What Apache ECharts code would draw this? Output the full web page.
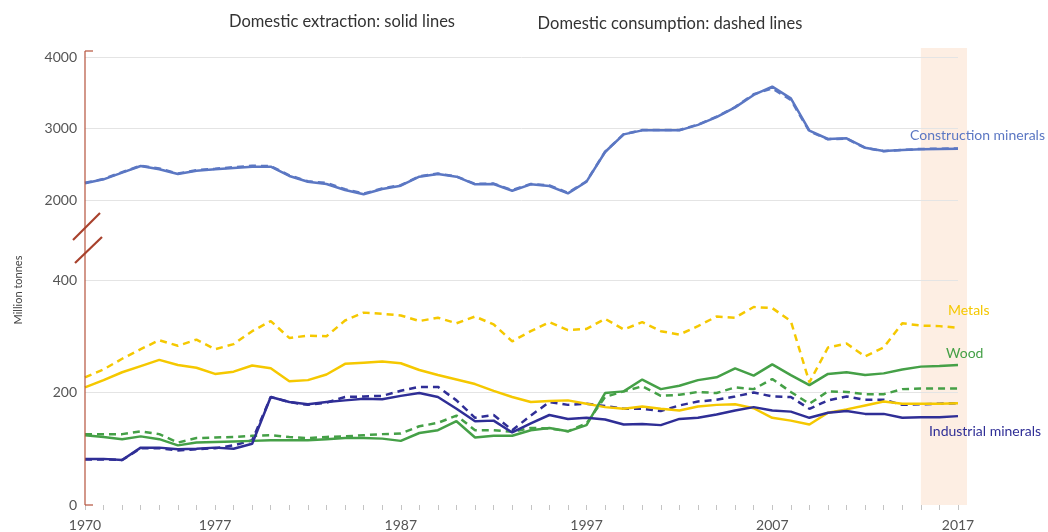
<!DOCTYPE html>
<html>
<head>
<meta charset="utf-8">
<script src="https://cdn.jsdelivr.net/npm/echarts@6/dist/echarts.min.js"></script>
<style>
html,body{margin:0;padding:0;background:#fff;}
#chart{width:1048px;height:532px;}
</style>
</head>
<body>
<div id="chart"></div>
<script>
const years = ['1970','1971','1972','1973','1974','1975','1976','1977','1978','1979',
  '1980','1981','1982','1983','1984','1985','1986','1987','1988','1989',
  '1990','1991','1992','1993','1994','1995','1996','1997','1998','1999',
  '2000','2001','2002','2003','2004','2005','2006','2007','2008','2009',
  '2010','2011','2012','2013','2014','2015','2016','2017'];
const labelledYears = ['1970','1977','1987','1997','2007','2017'];
const topTicks = [2000, 3000, 4000];
const bottomTicks = [0, 200, 400];

const constructionExtraction = [2233,2289,2382,2475,2429,2364,2410,2429,2448,2466,
  2466,2336,2256,2224,2140,2080,2154,2200,2326,2364,
  2326,2219,2224,2130,2219,2196,2093,2256,2671,2918,
  2974,2974,2974,3050,3159,3296,3469,3585,3422,2969,
  2853,2862,2731,2685,2699,2709,2713,2717];
const constructionConsumption = [2240,2295,2390,2480,2440,2370,2418,2436,2460,2478,
  2475,2345,2262,2238,2150,2090,2160,2208,2330,2370,
  2330,2225,2230,2138,2225,2205,2100,2262,2675,2920,
  2978,2978,2980,3055,3165,3300,3480,3560,3400,2960,
  2850,2858,2728,2683,2700,2714,2718,2722];
const metalsExtraction = [209,222,236,247,258,249,244,233,237,248,
  243,220,222,232,251,253,255,252,240,231,
  223,215,203,192,183,185,186,180,174,171,
  175,171,168,175,178,179,172,155,150,143,
  164,170,177,184,180,180,180,181];
const metalsConsumption = [227,241,260,277,293,283,294,277,286,309,
  327,297,301,300,328,342,340,337,327,333,
  323,335,321,291,309,325,311,313,331,312,
  325,309,303,318,335,333,352,350,327,218,
  280,287,264,280,323,319,318,315];
const woodExtraction = [124,121,117,122,117,106,111,112,113,114,
  115,115,115,117,119,119,118,114,128,133,
  149,120,123,123,133,137,131,142,199,202,
  223,206,212,222,227,243,230,250,231,213,
  233,236,231,234,241,246,247,249];
const woodConsumption = [126,126,126,131,126,111,119,120,121,123,
  124,121,119,121,122,124,126,127,140,146,
  159,133,133,130,137,136,131,145,192,202,
  211,194,196,201,199,209,206,224,201,180,
  202,201,197,197,206,207,207,207];
const industrialExtraction = [82,82,80,102,102,99,100,102,100,109,
  192,183,179,183,186,189,188,194,199,192,
  171,149,150,129,145,160,153,155,152,143,
  144,142,153,155,161,168,174,168,166,155,
  164,167,162,162,155,156,156,158];
const industrialConsumption = [81,81,80,101,101,97,99,101,106,115,
  192,183,178,182,192,193,194,203,210,210,
  186,155,160,133,159,183,178,180,176,171,
  171,167,177,184,187,193,200,193,192,171,
  186,193,187,187,178,179,180,181];

const C_CONS = '#5b77c3', C_MET = '#f5c800', C_WOOD = '#45a047', C_IND = '#2f2e96';
const AXIS_RED = '#b5533c';
const FONT = 'Lato';

const chart = echarts.init(document.getElementById('chart'), null, {renderer: 'canvas'});

const G_LEFT = 85, G_RIGHT = 90;
const gridTop = {left: G_LEFT, right: G_RIGHT, top: 57, height: 143};
const gridBot = {left: G_LEFT, right: G_RIGHT, top: 280, height: 227};

function line(name, data, color, dashed, gi, endLabel) {
  const s = {
    name: name, type: 'line', data: data,
    xAxisIndex: gi, yAxisIndex: gi,
    symbol: 'none', smooth: false,
    lineStyle: {color: color, width: 2.5, type: dashed ? [7, 5] : 'solid'},
    itemStyle: {color: color},
    z: dashed ? 3 : 4,
    animation: false
  };
  if (endLabel) {
    s.endLabel = Object.assign({show: true, formatter: name, distance: 0,
      color: color, fontFamily: FONT, fontSize: 14}, endLabel);
  }
  return s;
}

const yLabel = {color: '#555', fontSize: 14, fontFamily: FONT, margin: 8,
  formatter: function (v) { return String(v); }};
const splitLine = {show: true, lineStyle: {color: '#e4e4e4', width: 1}};

const option = {
  backgroundColor: '#fff',
  animation: false,
  grid: [gridTop, gridBot],
  xAxis: [
    {type: 'category', gridIndex: 0, data: years, boundaryGap: false, show: false},
    {type: 'category', gridIndex: 1, data: years, boundaryGap: false,
      axisLine: {show: false},
      axisTick: {show: true, interval: 0, length: 5, inside: false,
        lineStyle: {color: '#c4c4c4', width: 1}},
      axisLabel: {interval: 0, color: '#555', fontSize: 14, fontFamily: FONT, margin: 13,
        formatter: function (v) { return labelledYears.indexOf(v) >= 0 ? v : ''; }},
      splitLine: {show: false}}
  ],
  yAxis: [
    {type: 'value', gridIndex: 0, min: topTicks[0], max: topTicks[topTicks.length - 1], interval: 1000,
      axisLine: {show: false}, axisTick: {show: false}, axisLabel: yLabel, splitLine: splitLine},
    {type: 'value', gridIndex: 1, min: bottomTicks[0], max: bottomTicks[bottomTicks.length - 1], interval: 200,
      axisLine: {show: false}, axisTick: {show: false}, axisLabel: yLabel,
      splitLine: Object.assign({showMinLine: false}, splitLine)}
  ],
  series: [
    line('Construction minerals', constructionConsumption, C_CONS, true, 0),
    line('Construction minerals', constructionExtraction, C_CONS, false, 0, {offset: [-48, -13]}),
    line('Metals', metalsConsumption, C_MET, true, 1),
    line('Metals', metalsExtraction, C_MET, false, 1, {offset: [-10, -93]}),
    line('Wood', woodConsumption, C_WOOD, true, 1),
    line('Wood', woodExtraction, C_WOOD, false, 1, {offset: [-12, -11]}),
    line('Industrial minerals', industrialConsumption, C_IND, true, 1),
    line('Industrial minerals', industrialExtraction, C_IND, false, 1, {offset: [-29, 15]})
  ]
};
chart.setOption(option);

// decorations: shaded band, broken axis line, titles, axis name
const xBandStart = chart.convertToPixel({xAxisIndex: 1}, '2015');
const xEnd = chart.convertToPixel({xAxisIndex: 1}, '2017');
const yTopMax = chart.convertToPixel({yAxisIndex: 0}, 4000);
const yTopMin = chart.convertToPixel({yAxisIndex: 0}, 2000);
const yBotMax = chart.convertToPixel({yAxisIndex: 1}, 400);
const yBot0 = chart.convertToPixel({yAxisIndex: 1}, 0);
const axTop = yTopMax - 6;
const breakMid = (yTopMin + yBotMax) / 2;

chart.setOption({
  graphic: [
    {type: 'rect', z: -10, silent: true,
      shape: {x: xBandStart, y: yTopMax - 9, width: (xEnd - xBandStart) + 9, height: yBot0 - (yTopMax - 9)},
      style: {fill: '#fdeee3'}},
    {type: 'line', z: 10, silent: true,
      shape: {x1: G_LEFT, y1: axTop, x2: G_LEFT, y2: yBot0},
      style: {stroke: AXIS_RED, lineWidth: 1.2}},
    {type: 'line', z: 10, silent: true,
      shape: {x1: G_LEFT, y1: axTop, x2: G_LEFT + 8, y2: axTop},
      style: {stroke: AXIS_RED, lineWidth: 1.2}},
    {type: 'line', z: 10, silent: true,
      shape: {x1: G_LEFT, y1: yBot0, x2: G_LEFT + 8, y2: yBot0},
      style: {stroke: AXIS_RED, lineWidth: 1.2}},
    {type: 'line', z: 10, silent: true,
      shape: {x1: G_LEFT - 12, y1: breakMid, x2: G_LEFT + 15, y2: breakMid - 27},
      style: {stroke: '#a8412c', lineWidth: 2.2}},
    {type: 'line', z: 10, silent: true,
      shape: {x1: G_LEFT - 10, y1: breakMid + 23, x2: G_LEFT + 17, y2: breakMid - 3},
      style: {stroke: '#a8412c', lineWidth: 2.2}},
    {type: 'text', z: 10, silent: true, x: 342, y: 22,
      style: {text: 'Domestic extraction: solid lines', fill: '#333', fontSize: 16.5, fontFamily: FONT,
        textAlign: 'center', textVerticalAlign: 'middle'}},
    {type: 'text', z: 10, silent: true, x: 670, y: 24,
      style: {text: 'Domestic consumption: dashed lines', fill: '#333', fontSize: 16.5, fontFamily: FONT,
        textAlign: 'center', textVerticalAlign: 'middle'}},
    {type: 'text', z: 10, silent: true, x: 18, y: 290, rotation: Math.PI / 2,
      style: {text: 'Million tonnes', fill: '#444', fontSize: 11, fontFamily: FONT,
        textAlign: 'center', textVerticalAlign: 'middle'}}
  ]
});
</script>
</body>
</html>
